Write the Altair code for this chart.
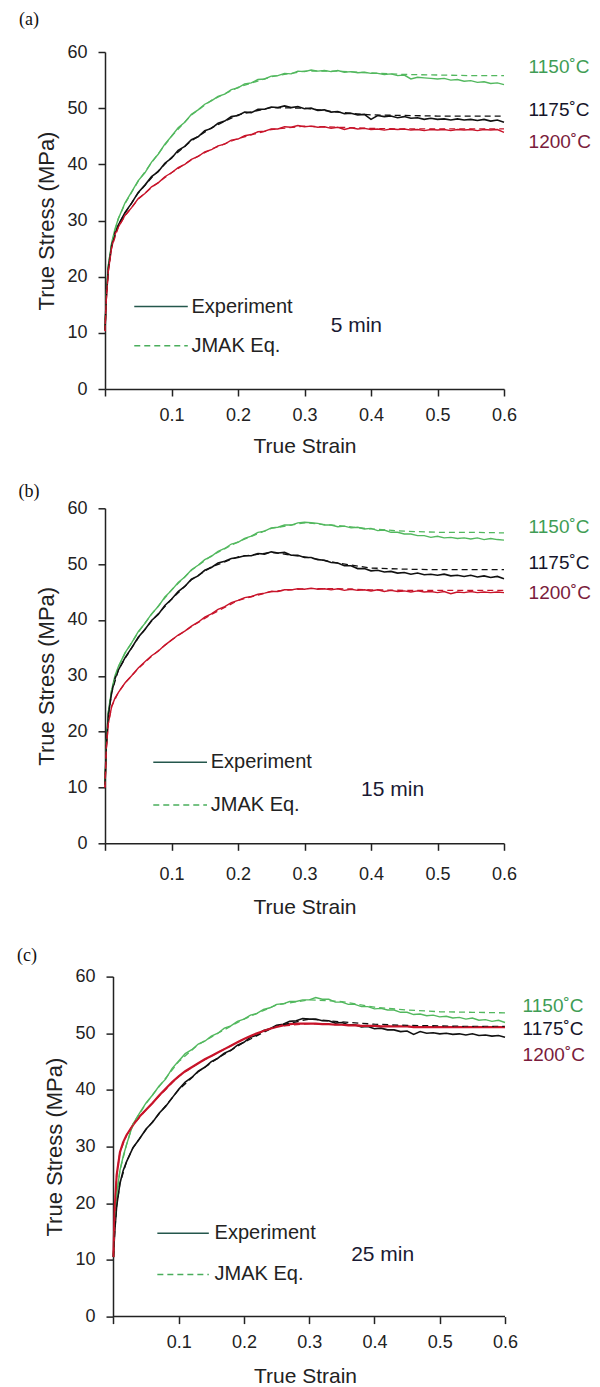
import altair as alt
import pandas as pd

# ---------------- data ----------------
STRAIN = [0, 0.002, 0.005, 0.01, 0.015, 0.02, 0.03, 0.04, 0.05, 0.06, 0.07, 0.08, 0.09, 0.10,
          0.11, 0.12, 0.13, 0.14, 0.15, 0.16, 0.17, 0.18, 0.19, 0.20, 0.21, 0.22, 0.23, 0.24,
          0.25, 0.26, 0.27, 0.28, 0.29, 0.30, 0.31, 0.32, 0.33, 0.34, 0.35, 0.36, 0.37, 0.38,
          0.39, 0.40, 0.41, 0.42, 0.43, 0.44, 0.45, 0.46, 0.47, 0.48, 0.49, 0.50, 0.51, 0.52,
          0.53, 0.54, 0.55, 0.56, 0.57, 0.58, 0.59, 0.60]

A_1150 = [10.5, 17.0, 22.0, 26.0, 28.5, 30.3, 33.1, 35.1, 37.1, 38.5, 40.4, 41.8, 43.6, 45.0,
          46.5, 47.5, 48.9, 49.7, 50.7, 51.3, 52.1, 52.5, 53.3, 53.6, 54.3, 54.5, 55.1, 55.2,
          55.7, 55.8, 56.2, 56.1, 56.6, 56.5, 56.8, 56.6, 56.7, 56.5, 56.7, 56.4, 56.5, 56.3,
          56.4, 56.2, 56.2, 56.0, 56.1, 55.8, 55.9, 55.2, 55.5, 55.4, 55.3, 55.2, 55.3, 55.0,
          55.1, 54.8, 54.9, 54.6, 54.7, 54.4, 54.5, 54.2]
A_1175 = [10.5, 16.5, 21.5, 25.5, 27.8, 29.2, 31.4, 33.1, 35.0, 36.3, 37.8, 38.7, 40.2, 41.1,
          42.5, 43.2, 44.4, 44.9, 46.0, 46.4, 47.3, 47.7, 48.5, 48.7, 49.3, 49.2, 49.8, 49.8,
          50.2, 50.1, 50.4, 50.1, 50.3, 49.9, 50.0, 49.6, 49.7, 49.3, 49.4, 49.0, 49.1, 48.8,
          48.9, 48.0, 48.7, 48.5, 48.6, 48.3, 48.5, 48.2, 48.3, 48.0, 48.2, 48.0, 48.1, 47.9,
          48.1, 47.9, 48.0, 47.8, 48.0, 47.7, 47.9, 47.5]
A_1200 = [10.3, 16.0, 21.0, 25.2, 27.5, 28.8, 30.9, 32.3, 33.9, 34.8, 36.0, 36.7, 37.8, 38.5,
          39.4, 40.0, 40.9, 41.4, 42.2, 42.6, 43.3, 43.6, 44.3, 44.5, 45.1, 45.3, 45.8, 45.9,
          46.3, 46.3, 46.7, 46.6, 46.9, 46.7, 46.8, 46.6, 46.7, 46.4, 46.6, 46.2, 46.5, 46.3,
          46.4, 46.2, 46.3, 46.1, 46.3, 46.2, 46.3, 46.1, 46.2, 46.0, 46.2, 46.1, 46.2, 46.0,
          46.2, 46.1, 46.2, 46.0, 46.2, 46.1, 46.2, 45.7]

B_1150 = [10.5, 18.0, 23.5, 27.5, 30.0, 31.6, 34.1, 35.9, 37.9, 39.4, 41.1, 42.4, 44.1, 45.3,
          46.7, 47.7, 49.0, 49.8, 50.8, 51.4, 52.3, 52.8, 53.6, 53.9, 54.6, 55.0, 55.7, 55.9,
          56.5, 56.6, 57.0, 57.0, 57.4, 57.5, 57.4, 57.3, 57.0, 57.0, 56.7, 56.8, 56.5, 56.6,
          56.3, 56.4, 56.0, 56.1, 55.7, 55.7, 55.4, 55.4, 55.1, 55.1, 54.8, 55.0, 54.7, 54.8,
          54.6, 54.7, 54.5, 54.7, 54.4, 54.6, 54.4, 54.3]
B_1175 = [10.5, 17.5, 23.0, 27.0, 29.5, 31.0, 33.2, 35.0, 36.9, 38.3, 39.9, 41.0, 42.6, 43.7,
          45.1, 46.0, 47.3, 47.9, 48.9, 49.4, 50.2, 50.5, 51.0, 51.2, 51.5, 51.5, 51.9, 51.8,
          52.2, 52.0, 52.1, 51.6, 51.6, 51.2, 51.2, 50.8, 50.7, 50.3, 50.2, 49.7, 49.7, 49.2,
          49.2, 48.8, 48.9, 48.6, 48.7, 48.4, 48.5, 48.2, 48.4, 48.1, 48.2, 48.0, 48.2, 47.9,
          48.0, 47.8, 48.0, 47.7, 47.9, 47.6, 47.8, 47.4]
B_1200 = [10.0, 17.0, 21.5, 24.5, 26.0, 27.0, 28.7, 30.0, 31.4, 32.5, 33.6, 34.4, 35.5, 36.4,
          37.3, 38.0, 38.9, 39.6, 40.5, 41.1, 41.9, 42.4, 43.1, 43.5, 44.0, 44.2, 44.6, 44.8,
          45.1, 45.1, 45.4, 45.4, 45.6, 45.5, 45.7, 45.5, 45.6, 45.4, 45.6, 45.3, 45.5, 45.3,
          45.4, 45.2, 45.4, 45.1, 45.3, 45.1, 45.2, 45.0, 45.2, 45.0, 45.1, 44.9, 45.1, 44.7,
          45.0, 44.9, 45.1, 44.9, 45.0, 44.9, 45.0, 44.9]

C_1150 = [10.5, 16.5, 21.5, 25.8, 28.3, 30.3, 34.0, 35.9, 37.7, 39.1, 40.7, 41.9, 43.8, 45.1,
          46.4, 47.1, 48.1, 48.6, 49.5, 50.0, 50.9, 51.3, 52.1, 52.5, 53.2, 53.5, 54.2, 54.5,
          55.1, 55.2, 55.6, 55.6, 55.9, 55.9, 56.3, 56.0, 56.0, 55.5, 55.5, 55.1, 55.1, 54.7,
          54.7, 54.3, 54.4, 54.1, 54.1, 53.7, 53.7, 53.3, 53.4, 53.1, 53.2, 52.9, 53.0, 52.7,
          52.8, 52.5, 52.7, 52.3, 52.4, 52.1, 52.3, 51.9]
C_1175 = [10.5, 15.0, 19.5, 23.5, 25.8, 27.3, 29.8, 31.4, 33.1, 34.3, 35.9, 37.1, 38.6, 40.1,
          41.4, 42.2, 43.3, 44.0, 45.0, 45.6, 46.5, 47.0, 47.9, 48.4, 49.3, 49.7, 50.5, 50.8,
          51.4, 51.6, 52.1, 52.2, 52.6, 52.5, 52.5, 52.2, 52.2, 51.8, 51.9, 51.5, 51.5, 51.1,
          51.2, 50.8, 50.9, 50.6, 50.6, 50.3, 50.4, 49.8, 50.3, 50.0, 50.1, 49.9, 50.0, 49.8,
          49.9, 49.7, 49.9, 49.6, 49.7, 49.5, 49.6, 49.3]
C_1200 = [10.5, 19.0, 25.0, 29.0, 30.8, 32.0, 33.8, 35.3, 36.5, 37.7, 39.0, 40.2, 41.4, 42.4,
          43.3, 44.0, 44.7, 45.4, 46.0, 46.6, 47.2, 47.8, 48.4, 49.0, 49.5, 50.0, 50.4, 50.8,
          51.1, 51.4, 51.6, 51.7, 51.7, 51.7, 51.7, 51.6, 51.6, 51.5, 51.5, 51.4, 51.4, 51.3,
          51.3, 51.3, 51.2, 51.2, 51.2, 51.2, 51.2, 51.1, 51.1, 51.1, 51.1, 51.1, 51.1, 51.1,
          51.1, 51.1, 51.1, 51.1, 51.1, 51.1, 51.1, 51.1]

J_STRAIN = [0, 0.002, 0.005, 0.01, 0.02, 0.03, 0.05, 0.07, 0.10, 0.13, 0.16, 0.20, 0.25, 0.30,
            0.35, 0.40, 0.45, 0.50, 0.55, 0.60]
JA_1150 = [10.5, 17.0, 22.0, 26.0, 30.3, 33.0, 37.0, 40.3, 45.0, 48.8, 51.4, 53.7, 55.6, 56.6, 56.6, 56.3, 56.0, 55.9, 55.8, 55.8]
JA_1175 = [10.5, 16.5, 21.5, 25.5, 29.2, 31.3, 34.9, 37.6, 41.2, 44.2, 46.5, 48.8, 50.1, 50.0, 49.3, 48.8, 48.7, 48.6, 48.6, 48.6]
JA_1200 = [10.3, 16.0, 21.0, 25.2, 28.8, 30.8, 33.8, 35.9, 38.5, 40.8, 42.7, 44.6, 46.2, 46.8, 46.6, 46.4, 46.3, 46.3, 46.3, 46.3]
JB_1150 = [10.5, 18.0, 23.5, 27.5, 31.6, 34.0, 37.8, 41.0, 45.4, 48.9, 51.5, 54.0, 56.4, 57.4, 56.9, 56.3, 55.9, 55.7, 55.7, 55.6]
JB_1175 = [10.5, 17.5, 23.0, 27.0, 31.0, 33.1, 36.8, 39.8, 43.7, 47.2, 49.5, 51.3, 52.1, 51.3, 50.2, 49.3, 49.1, 49.0, 49.0, 49.0]
JB_1200 = [10.0, 17.0, 21.5, 24.5, 27.0, 28.7, 31.3, 33.5, 36.4, 38.8, 41.0, 43.5, 45.1, 45.6, 45.6, 45.4, 45.3, 45.3, 45.3, 45.3]
JC_1150 = [10.5, 16.5, 21.5, 25.8, 30.3, 34.0, 37.6, 40.6, 45.0, 48.0, 50.0, 52.5, 55.0, 55.9, 55.6, 54.6, 54.1, 53.8, 53.7, 53.6]
JC_1175 = [10.5, 15.0, 19.5, 23.5, 27.3, 29.8, 33.0, 35.8, 40.0, 43.2, 45.6, 48.4, 51.3, 52.5, 52.0, 51.6, 51.4, 51.3, 51.2, 51.2]
JC_1200 = [10.5, 19.0, 25.0, 29.0, 32.0, 33.8, 36.5, 38.9, 42.4, 44.7, 46.6, 49.0, 51.2, 51.7, 51.5, 51.3, 51.2, 51.1, 51.1, 51.1]

TEMPS = ["1150", "1175", "1200"]
TEMP_LABELS = ["1150˚C", "1175˚C", "1200˚C"]
LINE_COLORS = ["#52b85e", "#111111", "#c8142a"]
LABEL_COLORS = ["#3f9d55", "#15152a", "#7a1c3c"]

X_TICKS = [0, 0.1, 0.2, 0.3, 0.4, 0.5, 0.6]
Y_TICKS = [0, 10, 20, 30, 40, 50, 60]

# per-panel annotation values (in data units)
LABEL_X = [0.637, 0.637, 0.627]
LABEL_Y = [[57.3, 49.7, 44.0], [56.7, 50.15, 44.8], [54.9, 50.8, 46.1]]
LEG_X = [[0.044, 0.1245, 0.130], [0.0726, 0.1534, 0.159], [0.0673, 0.1462, 0.155]]
LEG_Y = [[14.67, 7.72], [14.5, 6.86], [14.7, 7.44]]
TIME_TEXT = ["5 min", "15 min", "25 min"]
TIME_POS = [[0.378, 11.3], [0.4325, 9.55], [0.4126, 10.85]]
LETTERS = ["(a)", "(b)", "(c)"]
LETTER_POS = [[-0.1143, 65.65], [-0.1143, 62.97], [-0.1323, 63.7]]
# invisible spacer above panel (c): the gap before (c) is larger in the figure
SPACER_POS = [None, None, [-0.1323, 64.15]]
X_MIN = [0, 0, -0.0129]          # panel (c) plot starts a little further right
Y_AXIS_OFFSET = [0, 0, -8]
X_LABEL_PAD = [10, 15, 9.5]
X_TITLE_PAD = [11, 13, 14.5]
PANEL_W = [399, 399, 400]
PANEL_H = [337, 335, 340]
LINE_W = [[1.4, 1.6, 1.4], [1.4, 1.6, 1.4], [1.4, 1.6, 2.2]]

FONT = "Liberation Sans"
TXT = "#222222"


def panel(k, exp, jmak):
    xs = alt.Scale(domain=[X_MIN[k], 0.6], nice=False, zero=False)
    ys = alt.Scale(domain=[0, 60], nice=False, zero=False)
    cs = alt.Scale(domain=TEMPS, range=LINE_COLORS)

    xaxis = alt.Axis(values=X_TICKS, format=".1f",
                     labelExpr="datum.value == 0 ? '' : datum.label",
                     grid=False, domain=(X_MIN[k] == 0), tickSize=7,
                     labelPadding=X_LABEL_PAD[k], titlePadding=X_TITLE_PAD[k],
                     labelFontSize=18, titleFontSize=21, labelFont=FONT,
                     titleFont=FONT, titleFontWeight="normal", domainColor=TXT,
                     tickColor=TXT, labelColor=TXT, titleColor=TXT, domainWidth=1.5,
                     tickWidth=1.5, labelFlush=False)
    yaxis = alt.Axis(values=Y_TICKS, grid=False, tickSize=7, offset=Y_AXIS_OFFSET[k],
                     labelPadding=11, titlePadding=8, labelFontSize=18, titleFontSize=22,
                     labelFont=FONT, titleFont=FONT, titleFontWeight="normal",
                     domainColor=TXT, tickColor=TXT, labelColor=TXT, titleColor=TXT,
                     domainWidth=1.5, tickWidth=1.5, labelFlush=False)

    n = len(STRAIN)
    exp_df = pd.DataFrame({
        "strain": STRAIN * 3,
        "stress": exp[0] + exp[1] + exp[2],
        "temp": [TEMPS[0]] * n + [TEMPS[1]] * n + [TEMPS[2]] * n,
        "w": [LINE_W[k][0]] * n + [LINE_W[k][1]] * n + [LINE_W[k][2]] * n,
    })
    m = len(J_STRAIN)
    j_df = pd.DataFrame({
        "strain": J_STRAIN * 3,
        "stress": jmak[0] + jmak[1] + jmak[2],
        "temp": [TEMPS[0]] * m + [TEMPS[1]] * m + [TEMPS[2]] * m,
    })
    lab_df = pd.DataFrame({
        "strain": [LABEL_X[k]] * 3,
        "stress": LABEL_Y[k],
        "txt": TEMP_LABELS,
        "col": LABEL_COLORS,
    })
    base_df = pd.DataFrame({"strain": [0], "strain2": [0.6], "stress": [0]})
    leg_line = pd.DataFrame({"strain": [LEG_X[k][0]], "strain2": [LEG_X[k][1]],
                             "stress": [LEG_Y[k][0]]})
    leg_dash = pd.DataFrame({"strain": [LEG_X[k][0]], "strain2": [LEG_X[k][1]],
                             "stress": [LEG_Y[k][1]]})
    leg_txt = pd.DataFrame({"strain": [LEG_X[k][2]] * 2, "stress": LEG_Y[k],
                            "txt": ["Experiment", "JMAK Eq."]})
    time_df = pd.DataFrame({"strain": [TIME_POS[k][0]], "stress": [TIME_POS[k][1]],
                            "txt": [TIME_TEXT[k]]})
    letter_df = pd.DataFrame({"strain": [LETTER_POS[k][0]], "stress": [LETTER_POS[k][1]],
                              "txt": [LETTERS[k]]})

    X = lambda: alt.X("strain:Q", scale=xs, axis=xaxis, title="True Strain")
    Y = lambda: alt.Y("stress:Q", scale=ys, axis=yaxis, title="True Stress (MPa)")

    layers = []
    if X_MIN[k] != 0:
        layers.append(alt.Chart(base_df).mark_rule(color=TXT, strokeWidth=1.5).encode(
            x=X(), x2="strain2:Q", y=Y()))
    if SPACER_POS[k] is not None:
        sp_df = pd.DataFrame({"strain": [SPACER_POS[k][0]], "stress": [SPACER_POS[k][1]],
                              "txt": [LETTERS[k]]})
        layers.append(alt.Chart(sp_df).mark_text(baseline="middle", fontSize=18,
                                                 opacity=0, font="Liberation Serif").encode(
            x=X(), y=Y(), text="txt:N"))
    layers += [
        alt.Chart(exp_df).mark_line().encode(
            x=X(), y=Y(),
            color=alt.Color("temp:N", scale=cs, legend=None),
            strokeWidth=alt.StrokeWidth("w:Q", scale=None),
        ),
        alt.Chart(j_df).mark_line(strokeDash=[6, 4], strokeWidth=1.3).encode(
            x=X(), y=Y(), color=alt.Color("temp:N", scale=cs, legend=None),
        ),
        alt.Chart(lab_df).mark_text(align="left", baseline="middle", fontSize=19,
                                    font=FONT).encode(
            x=X(), y=Y(), text="txt:N", color=alt.Color("col:N", scale=None),
        ),
        alt.Chart(leg_line).mark_rule(color="#24574c", strokeWidth=1.5).encode(
            x=X(), x2="strain2:Q", y=Y()),
        alt.Chart(leg_dash).mark_rule(color="#4aae5c", strokeWidth=1.5,
                                      strokeDash=[6, 4]).encode(
            x=X(), x2="strain2:Q", y=Y()),
        alt.Chart(leg_txt).mark_text(align="left", baseline="middle", fontSize=20,
                                     font=FONT, color=TXT).encode(
            x=X(), y=Y(), text="txt:N"),
        alt.Chart(time_df).mark_text(align="center", baseline="middle", fontSize=21,
                                     font=FONT, color="#1a1a33").encode(
            x=X(), y=Y(), text="txt:N"),
        alt.Chart(letter_df).mark_text(align="center", baseline="middle", fontSize=18,
                                       font="Liberation Serif", color="#111111").encode(
            x=X(), y=Y(), text="txt:N"),
    ]
    return alt.layer(*layers).properties(width=PANEL_W[k], height=PANEL_H[k])


pa = panel(0, [A_1150, A_1175, A_1200], [JA_1150, JA_1175, JA_1200])
pb = panel(1, [B_1150, B_1175, B_1200], [JB_1150, JB_1175, JB_1200])
pc = panel(2, [C_1150, C_1175, C_1200], [JC_1150, JC_1175, JC_1200])

chart = alt.vconcat(pa, pb, pc, spacing=26.3).properties(
    padding={"left": 9, "top": 3, "right": 0, "bottom": 5},
    background="white",
).configure(font=FONT).configure_view(stroke=None)

chart.save("out.html", embed_options={"renderer": "svg", "actions": False})
